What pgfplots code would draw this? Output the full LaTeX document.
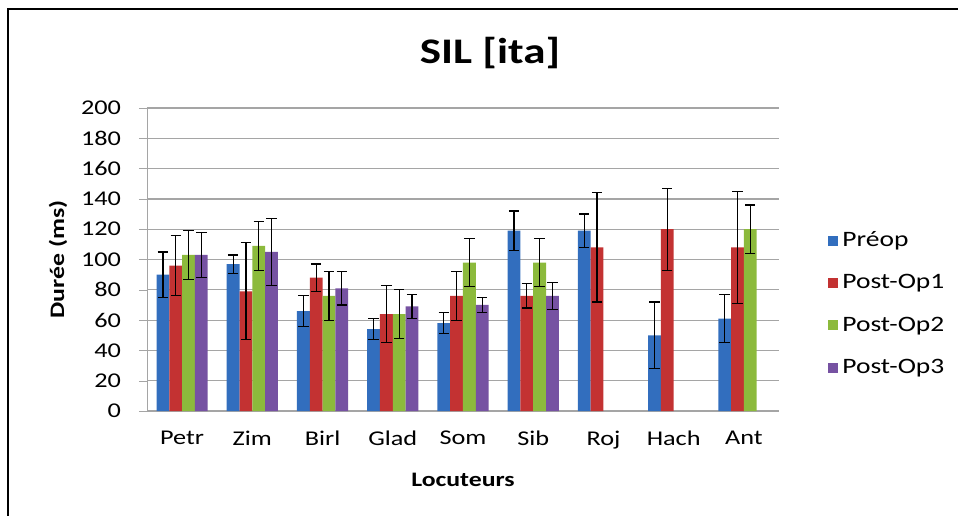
\documentclass[border=0pt]{standalone}
\usepackage{pgfplots}
\pgfplotsset{compat=1.18}
\usepackage{fontspec}
\setmainfont{Carlito}[FakeStretch=1.25]

\definecolor{cPre}{RGB}{50,110,190}
\definecolor{cP1}{RGB}{195,50,50}
\definecolor{cP2}{RGB}{140,186,60}
\definecolor{cP3}{RGB}{118,82,162}
\definecolor{gridgray}{RGB}{165,165,165}

\begin{document}
\begin{tikzpicture}
\useasboundingbox (0,0) rectangle (479pt,257.5pt);
% outer frame (only top and left edges fall inside the picture)
\draw[line width=1pt] (4pt,-2pt) -- (4pt,253pt) -- (481pt,253pt);
\node[font=\fontsize{18}{20}\selectfont\bfseries] at (245pt,231pt) {SIL [ita]};

\begin{axis}[
    at={(73.5pt,52pt)}, anchor=south west,
    width=316pt, height=151.5pt, scale only axis,
    ybar=0pt, bar width=6.4pt,
    ymin=0, ymax=200, ytick={0,20,...,200},
    xmin=-0.5, xmax=8.5,
    xtick={0,...,8},
    xticklabels={Petr,Zim,Birl,Glad,Som,Sib,Roj,Hach,Ant},
    major x tick style={draw=none},
    ytick style={gridgray},
    tick align=outside, major tick length=4pt,
    axis x line*=bottom, axis y line*=left,
    axis line style={gridgray, -},
    ymajorgrids, grid style={gridgray, line width=0.6pt},
    tick label style={font=\fontsize{10.5}{12}\selectfont},
    yticklabel style={xshift=-5.5pt},
    xticklabel style={yshift=-2.5pt},
    /pgf/number format/assume math mode=true,
    xlabel={Locuteurs}, ylabel={Durée (ms)},
    label style={font=\fontsize{10.3}{12}\selectfont\bfseries},
    xlabel style={yshift=-5pt},
    legend style={at={(rel axis cs:1.068,0.62)}, anchor=north west,
        draw=none, fill=none, row sep=8.5pt,
        font=\fontsize{11}{13}\selectfont},
    legend cell align=left,
    legend image code/.code={\draw[#1, draw=none] (-3pt,-2.5pt) rectangle (2pt,2.5pt);},
    error bars/y dir=both, error bars/y explicit,
    error bars/error bar style={black, line width=0.6pt},
    error bars/error mark options={black, rotate=90, mark size=2.6pt, line width=0.6pt},
]
\addplot[draw=none, fill=cPre] coordinates {
    (0,90) +- (0,15) (1,97) +- (0,6) (2,66) +- (0,10) (3,54) +- (0,7)
    (4,58) +- (0,7) (5,119) +- (0,13) (6,119) +- (0,11) (7,50) +- (0,22)
    (8,61) +- (0,16)};
\addlegendentry{Préop}
\addplot[draw=none, fill=cP1] coordinates {
    (0,96) +- (0,20) (1,79) +- (0,32) (2,88) +- (0,9) (3,64) +- (0,19)
    (4,76) +- (0,16) (5,76) +- (0,8) (6,108) +- (0,36) (7,120) +- (0,27)
    (8,108) +- (0,37)};
\addlegendentry{Post-Op1}
\addplot[draw=none, fill=cP2] coordinates {
    (0,103) +- (0,16) (1,109) +- (0,16) (2,76) +- (0,16) (3,64) +- (0,16)
    (4,98) +- (0,16) (5,98) +- (0,16) (8,120) +- (0,16)};
\addlegendentry{Post-Op2}
\addplot[draw=none, fill=cP3] coordinates {
    (0,103) +- (0,15) (1,105) +- (0,22) (2,81) +- (0,11) (3,69) +- (0,8)
    (4,70) +- (0,5) (5,76) +- (0,9)};
\addlegendentry{Post-Op3}
\end{axis}
\end{tikzpicture}
\end{document}
